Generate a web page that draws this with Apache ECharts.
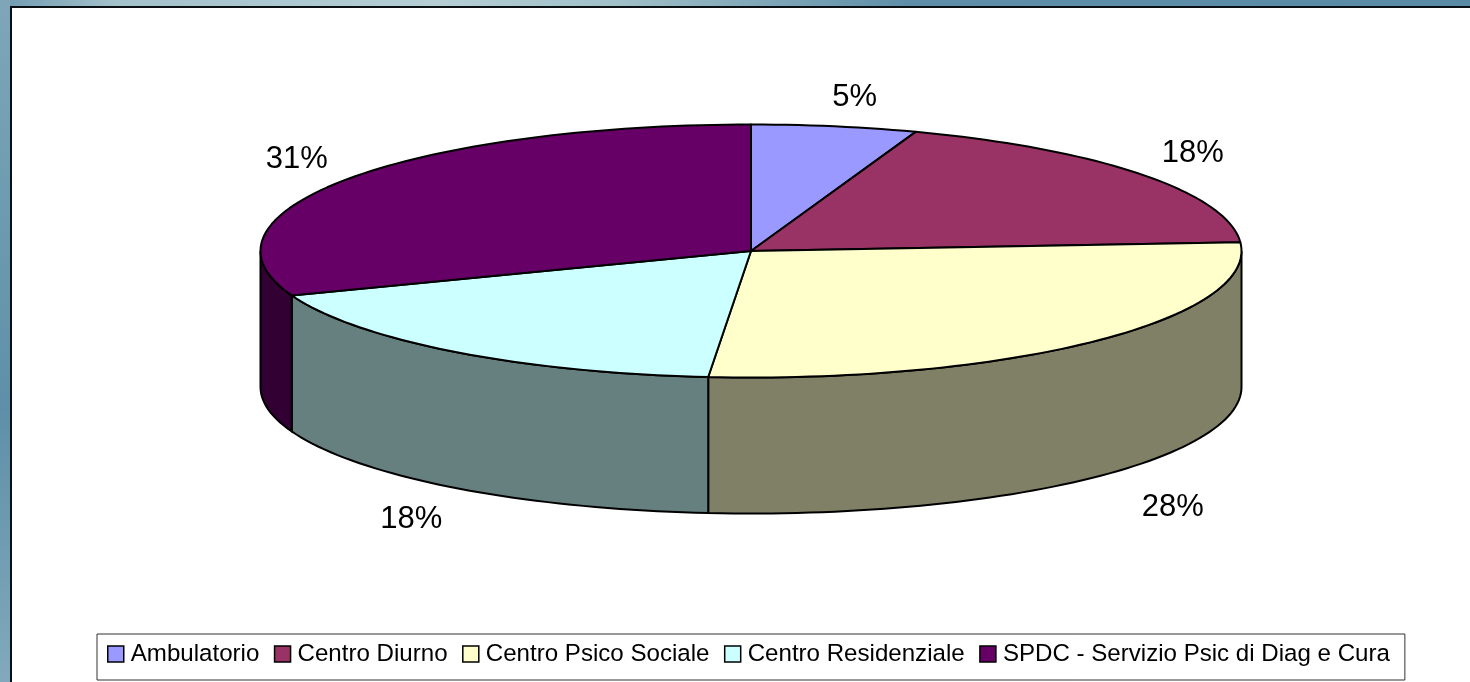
<!DOCTYPE html>
<html><head><meta charset="utf-8">
<style>html,body{margin:0;padding:0;background:#fff;overflow:hidden}#c{width:1470px;height:682px}</style>
<script src="https://cdn.jsdelivr.net/npm/echarts@6/dist/echarts.min.js"></script>
</head><body><div id="c"></div>
<script>
const categories = ['Ambulatorio','Centro Diurno','Centro Psico Sociale','Centro Residenziale','SPDC - Servizio Psic di Diag e Cura'];
const values = [5.45,18.44,27.5,17.9,30.71];
const topColors = ['#9999FF','#993366','#FFFFCC','#CCFFFF','#660066'];
const wallColors = ['#4D4D80','#4D1A33','#808066','#668080','#330033'];

const PIE = {cx:751, cy:251, rx:490.5, ry:126.5, depth:136};
const LABEL_OFFSET = [[20,-29],[51,-21],[78,30],[-43,32],[-51,-19]];
const FONT = 'Liberation Sans, Arial, sans-serif';
const total = values.reduce((a,b)=>a+b,0);
const pt = (deg,dy) => {
  const t = deg*Math.PI/180;
  return [PIE.cx+PIE.rx*Math.sin(t), PIE.cy-PIE.ry*Math.cos(t)+(dy||0)];
};
const arc = (a,b,dy) => {
  const n = Math.max(2,Math.ceil(Math.abs(b-a)/1.5)), out=[];
  for(let k=0;k<=n;k++) out.push(pt(a+(b-a)*k/n,dy));
  return out;
};
function renderSlice(i){
  return function(params,api){
    const v = api.value(0);
    let before = 0;
    for(let k=0;k<i;k++) before += values[k];
    const a = before/total*360, b = (before+v)/total*360, mid=(a+b)/2;
    const children = [];
    const wa = Math.max(a,90), wb = Math.min(b,270);
    if(wb>wa){
      const pts = arc(wa,wb,0).concat(arc(wb,wa,PIE.depth));
      children.push({type:'polygon',shape:{points:pts},style:{fill:wallColors[i],stroke:'#000',lineWidth:2}});
    }
    const top = [[PIE.cx,PIE.cy]].concat(arc(a,b,0));
    children.push({type:'polygon',shape:{points:top},style:{fill:topColors[i],stroke:'#000',lineWidth:2,lineJoin:'round'}});
    const front = mid>90 && mid<270;
    const anchor = pt(mid, front?PIE.depth:0);
    children.push({type:'text',style:{
      x:anchor[0]+LABEL_OFFSET[i][0], y:anchor[1]+LABEL_OFFSET[i][1],
      text:Math.round(v/total*100)+'%', fill:'#000', font:'31px '+FONT, align:'center', verticalAlign:'middle'}});
    return {type:'group',children};
  };
}
const chart = echarts.init(document.getElementById('c'),null,{renderer:'canvas'});
chart.setOption({
  animation:false,
  backgroundColor:'#fff',
  graphic:[
    {type:'rect',z:-10,shape:{x:0,y:0,width:1470,height:7},style:{fill:{type:'linear',x:0,y:0,x2:1,y2:0,colorStops:[
      {offset:0,color:'#6f9ab0'},{offset:0.08,color:'#a4c2cc'},{offset:0.3,color:'#b4ced4'},{offset:0.42,color:'#a0c0c8'},
      {offset:0.62,color:'#5e8ea8'},{offset:1,color:'#5a8ba6'}]}}},
    {type:'rect',z:-10,shape:{x:0,y:0,width:10,height:682},style:{fill:{type:'linear',x:0,y:0,x2:0,y2:1,colorStops:[
      {offset:0,color:'#7fa6b8'},{offset:0.3,color:'#6e9bb0'},{offset:0.6,color:'#5f8fa8'},{offset:1,color:'#82a9bb'}]}}},
    {type:'rect',z:-9,shape:{x:10,y:6,width:1460,height:2},style:{fill:'#0a0f14'}},
    {type:'rect',z:-9,shape:{x:10,y:6,width:2,height:676},style:{fill:'#0a0f14'}}
  ],
  legend:{
    show:true, selectedMode:false, left:97, top:634, orient:'horizontal',
    data:categories, icon:'rect', itemWidth:16, itemHeight:16, itemGap:14.5,
    padding:[8,15,14,10], backgroundColor:'#fff', borderColor:'#333', borderWidth:1,
    width:1340, textStyle:{fontFamily:FONT,fontSize:24.1,color:'#000',padding:[0,0,0,2]},
    itemStyle:{borderColor:'#000',borderWidth:1.5}
  },
  series: categories.map((name,i)=>({
    type:'custom', name, coordinateSystem:'none', silent:true,
    itemStyle:{color:topColors[i]}, data:[values[i]], renderItem:renderSlice(i)
  }))
});
</script></body></html>
